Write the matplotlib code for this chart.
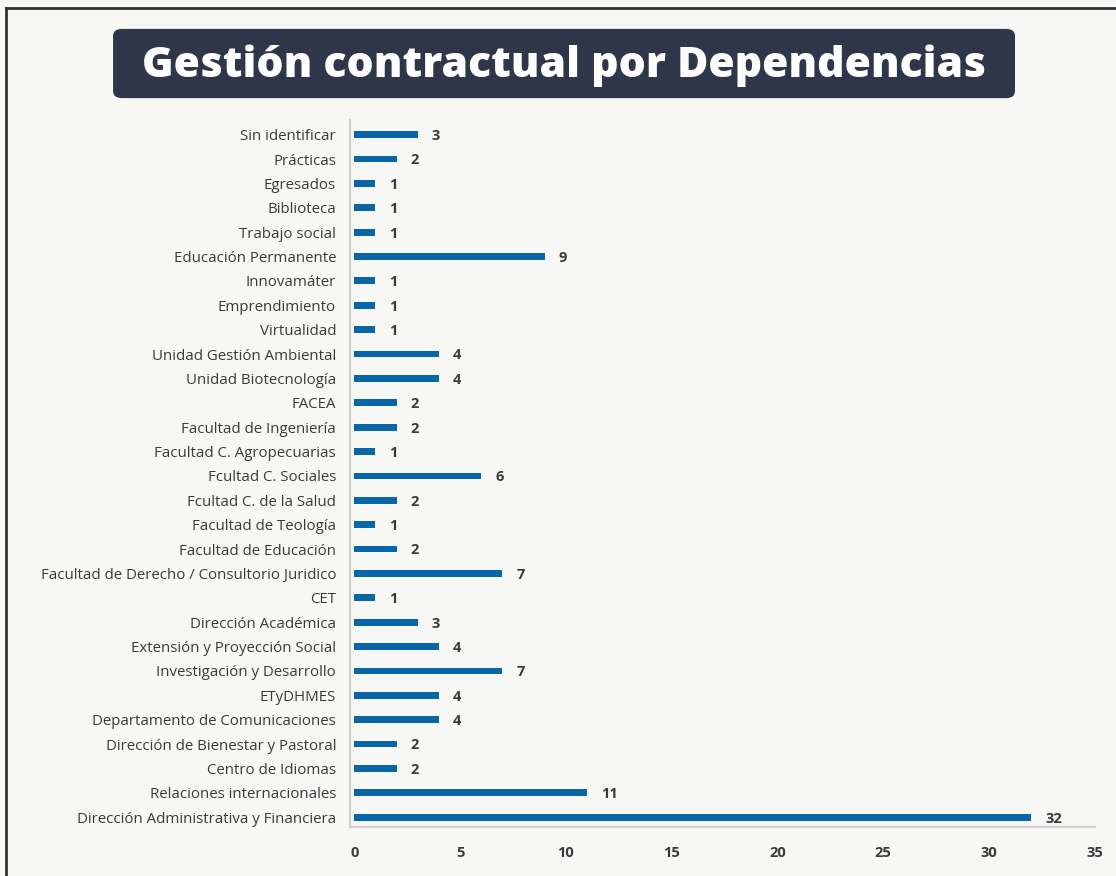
import matplotlib
matplotlib.use('Agg')
import matplotlib.pyplot as plt
from matplotlib.patches import FancyBboxPatch
from matplotlib.lines import Line2D

# dependencias, de arriba hacia abajo como en el original
dependencias = [
    'Sin identificar', 'Prácticas', 'Egresados', 'Biblioteca', 'Trabajo social',
    'Educación Permanente', 'Innovamáter', 'Emprendimiento', 'Virtualidad',
    'Unidad Gestión Ambiental', 'Unidad Biotecnología', 'FACEA',
    'Facultad de Ingeniería', 'Facultad C. Agropecuarias', 'Fcultad C. Sociales',
    'Fcultad C. de la Salud', 'Facultad de Teología', 'Facultad de Educación',
    'Facultad de Derecho / Consultorio Juridico', 'CET', 'Dirección Académica',
    'Extensión y Proyección Social', 'Investigación y Desarrollo', 'ETyDHMES',
    'Departamento de Comunicaciones', 'Dirección de Bienestar y Pastoral',
    'Centro de Idiomas', 'Relaciones internacionales',
    'Dirección Administrativa y Financiera',
]
contratos = [3, 2, 1, 1, 1, 9, 1, 1, 1, 4, 4, 2, 2, 1, 6, 2, 1, 2, 7, 1, 3, 4, 7, 4, 4, 2, 2, 11, 32]
x_ticks = [0, 5, 10, 15, 20, 25, 30, 35]

bg = '#f7f7f5'
bar_color = '#0866a8'
text_color = '#3a3a3a'
plt.rcParams['font.family'] = ['Open Sans', 'DejaVu Sans']

fig = plt.figure(figsize=(11.16, 8.76), dpi=100, facecolor=bg)
ax = fig.add_axes([0.3136, 0.056, 0.981 - 0.3136, 0.863 - 0.056])
ax.set_facecolor(bg)

pos = list(range(len(dependencias)))
ax.barh(pos, contratos, height=0.28, color=bar_color, zorder=2)
ax.set_ylim(len(dependencias) - 0.6, -0.6)
ax.set_xlim(-0.2, 35)
ax.set_yticks(pos)
ax.set_yticklabels(dependencias, fontsize=10.8, color=text_color)
ax.set_xticks(x_ticks)
ax.set_xticklabels([str(t) for t in x_ticks], fontsize=10.5, fontweight='bold', color=text_color)
ax.tick_params(axis='both', length=0)
ax.tick_params(axis='y', pad=10)
ax.tick_params(axis='x', pad=14)

for s in ['top', 'right']:
    ax.spines[s].set_visible(False)
for s in ['left', 'bottom']:
    ax.spines[s].set_color('#cfcfcf')
    ax.spines[s].set_linewidth(1.6)

for p, v in zip(pos, contratos):
    ax.annotate(str(v), (v, p), xytext=(10, -1), textcoords='offset points',
                ha='left', va='center', fontsize=10.5, fontweight='bold', color=text_color)

# caja del título
box = FancyBboxPatch((0.1013, 0.888), 0.9095 - 0.1013, 0.967 - 0.888,
                     boxstyle='round,pad=0,rounding_size=0.008', transform=fig.transFigure,
                     facecolor='#30364a', edgecolor='none')
fig.patches.append(box)
fig.text(0.5054, 0.9245, 'Gestión contractual por Dependencias', ha='center', va='center',
         fontsize=30.8, fontweight='heavy', color='white')

# borde
fig.lines.append(Line2D([0.0055, 0.0055], [0, 0.991], transform=fig.transFigure, color='#333333', lw=2))
fig.lines.append(Line2D([0.0055, 1], [0.991, 0.991], transform=fig.transFigure, color='#333333', lw=2))

fig.savefig('out.png', dpi=100, facecolor=bg)
